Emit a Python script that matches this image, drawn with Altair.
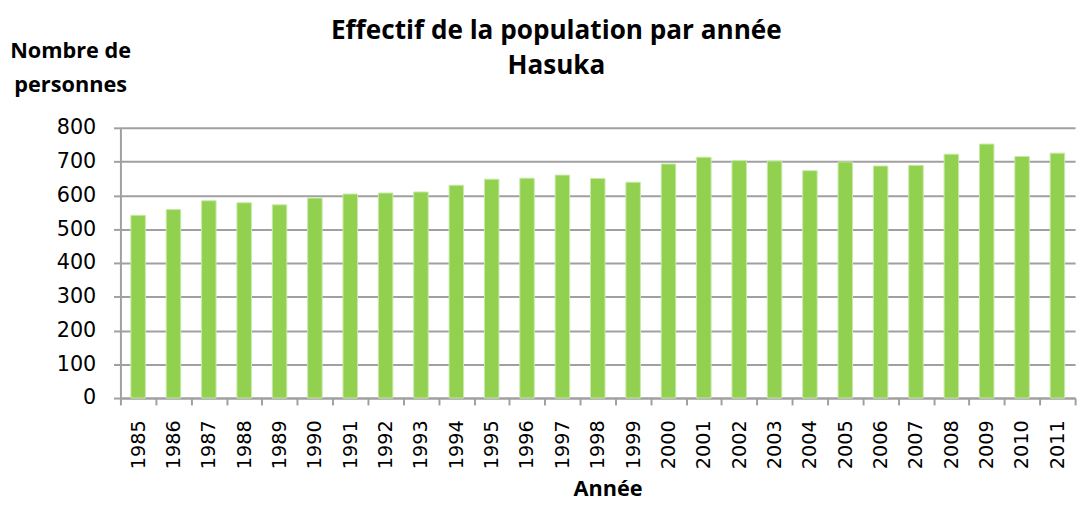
import altair as alt
import pandas as pd

years = [str(y) for y in range(1985, 2012)]
values = [541, 558, 584, 578, 572, 592, 604, 607, 610, 630, 648, 651, 660, 650, 639,
          693, 713, 703, 702, 673, 699, 687, 689, 722, 752, 715, 725]

df = pd.DataFrame({"Année": years, "Personnes": values})

W, H = 968, 274

chart = alt.Chart(df).mark_bar(
    width=alt.RelativeBandSize(0.41), color="#92D050", stroke="#c8eaa8", strokeWidth=1
).encode(
    x=alt.X("Année:N", sort=years,
            scale=alt.Scale(paddingInner=0, paddingOuter=0),
            axis=alt.Axis(title="Année", labelAngle=-90, labelAlign="right", labelBaseline="middle",
                          labelFont="DejaVu Sans", labelFontSize=19.5, labelColor="#000000",
                          labelPadding=15, tickBand="extent", tickSize=7, tickColor="#a0a0a0",
                          tickWidth=2, domainColor="#a0a0a0", domainWidth=2,
                          titleFont="Open Sans", titleFontSize=22, titleFontWeight="bold",
                          titleColor="#000000", titleX=494, titleY=92, titleBaseline="middle",
                          titleAlign="center")),
    y=alt.Y("Personnes:Q",
            scale=alt.Scale(domain=[0, 800], nice=False),
            axis=alt.Axis(title=["Nombre de", "personnes"], values=list(range(0, 801, 100)),
                          labelFont="DejaVu Sans", labelFontSize=21, labelColor="#000000",
                          labelPadding=18, tickSize=7, tickColor="#a0a0a0", tickWidth=2,
                          domainColor="#a0a0a0", domainWidth=2, grid=True,
                          gridColor="#a0a0a0", gridWidth=2,
                          titleFont="Open Sans", titleFontSize=22, titleFontWeight="bold",
                          titleColor="#000000", titleAngle=0, titleAlign="center",
                          titleBaseline="middle", titleX=-51, titleY=-78, titleLineHeight=34)),
).properties(
    width=W, height=H,
    title=alt.TitleParams(["Effectif de la population par année", "Hasuka"],
                          font="Open Sans", fontSize=26.5, fontWeight="bold", color="#000000",
                          anchor="middle", dx=-42, dy=62, lineHeight=36, offset=22),
    padding={"left": 114, "top": 118, "right": 8, "bottom": 108},
    autosize="none",
).configure_view(stroke=None)

chart.save("out.html", embed_options={"renderer": "svg", "actions": False})
